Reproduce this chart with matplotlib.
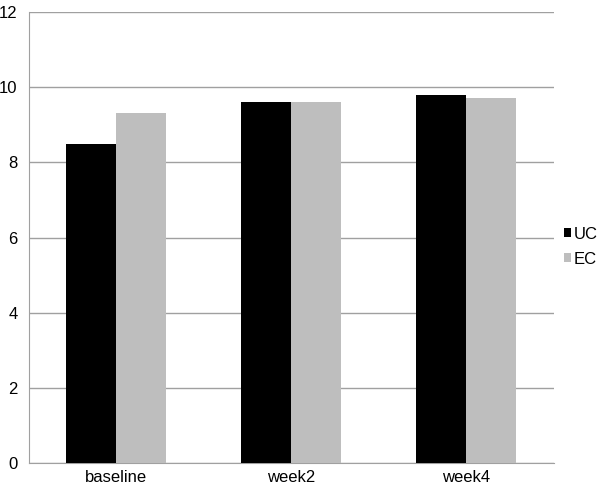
import matplotlib.pyplot as plt
import numpy as np

plt.rcParams['font.family'] = ['Liberation Sans', 'DejaVu Sans']

categories = ['baseline', 'week2', 'week4']
uc_values = [8.5, 9.6, 9.8]
ec_values = [9.3, 9.6, 9.7]
y_ticks = [0, 2, 4, 6, 8, 10, 12]

fig = plt.figure(figsize=(6, 4.9), dpi=100)
ax = fig.add_axes([0.048, 0.055, 0.875, 0.9205])

x = np.arange(len(categories))
w = 0.285
ax.bar(x - w / 2, uc_values, w, color='black', label='UC', zorder=3)
ax.bar(x + w / 2, ec_values, w, color='#bebebe', label='EC', zorder=3)

ax.set_xlim(-0.5, 2.5)
ax.set_ylim(0, 12)
ax.set_yticks(y_ticks)
ax.set_xticks(x)
ax.set_xticklabels(categories)
ax.yaxis.grid(True, color='#a0a0a0', linewidth=1, zorder=0)
ax.tick_params(axis='both', length=0, labelsize=12, pad=5)
ax.tick_params(axis='y', pad=8)
for s in ['top', 'right']:
    ax.spines[s].set_visible(False)
ax.spines['left'].set_color('#a0a0a0')
ax.spines['bottom'].set_color('#a0a0a0')

ax.legend(loc='center left', bbox_to_anchor=(1.019, 0.48), frameon=False,
          borderpad=0, borderaxespad=0,
          handlelength=0.42, handleheight=0.42, handletextpad=0.15, fontsize=12,
          labelspacing=0.6)

fig.savefig('out.png')
